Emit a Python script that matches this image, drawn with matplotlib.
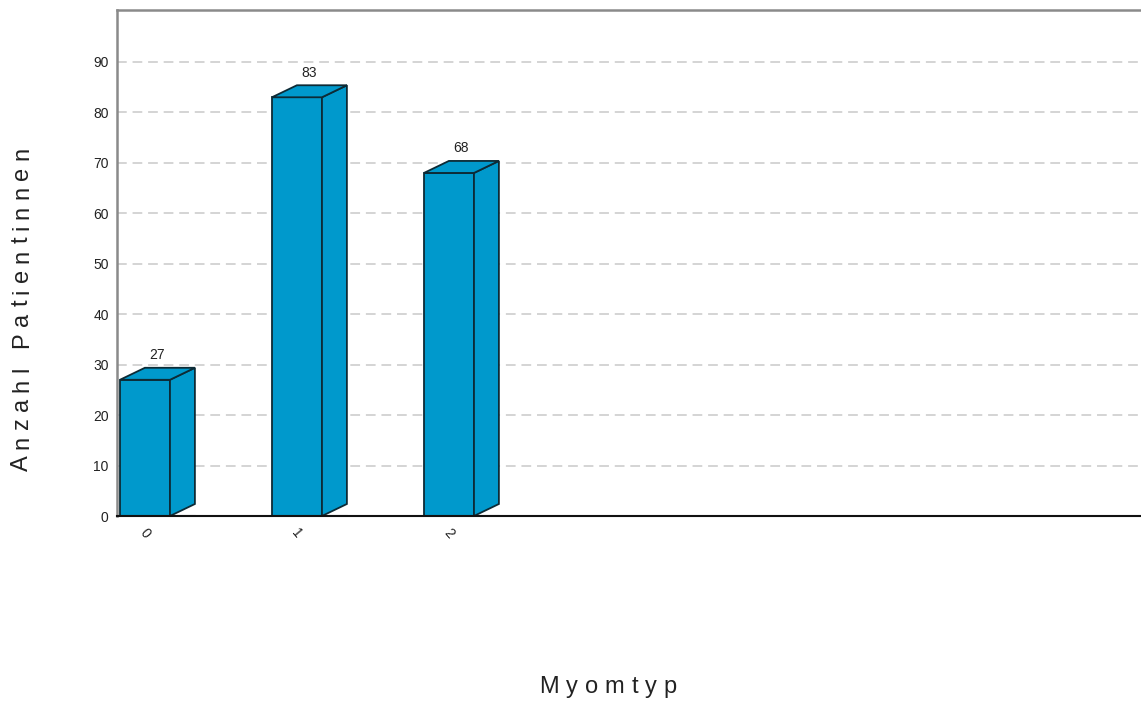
import matplotlib
matplotlib.use("Agg")
import matplotlib.pyplot as plt
from matplotlib.patches import Polygon
from matplotlib.font_manager import FontProperties, findfont, get_font

# Data
categories = ["0", "1", "2"]
counts = [27, 83, 68]
y_ticks = [0, 10, 20, 30, 40, 50, 60, 70, 80, 90]
x_label = "Myomtyp"
y_label = "Anzahl Patientinnen"

bar_color = "#0099cc"
edge_color = "#0d2b36"
text_color = "#222222"

plt.rcParams["font.family"] = ["Liberation Sans", "DejaVu Sans"]

W, H = 1141, 701
DPI = 100
fig = plt.figure(figsize=(W / DPI, H / DPI), dpi=DPI)
ax = fig.add_axes([117 / W, 185 / H, 1 - 117 / W, (691 - 185) / H])

ax.set_xlim(-0.184, 6.553)
ax.set_ylim(0, 100.3)

width = 0.329
depth_x = 0.164   # oblique depth of the pseudo-3D bars (x data units)
depth_y = 2.38    # oblique depth (y data units)

xs = list(range(len(categories)))
ax.bar(xs, counts, width=width, color=bar_color, edgecolor=edge_color,
       linewidth=1.3, zorder=3)

for x, v in zip(xs, counts):
    x0, x1 = x - width / 2, x + width / 2
    side = Polygon([(x1, 0), (x1 + depth_x, depth_y), (x1 + depth_x, v + depth_y), (x1, v)],
                   closed=True, facecolor=bar_color, edgecolor=edge_color,
                   linewidth=1.3, zorder=3)
    top = Polygon([(x0, v), (x0 + depth_x, v + depth_y), (x1 + depth_x, v + depth_y), (x1, v)],
                  closed=True, facecolor=bar_color, edgecolor=edge_color,
                  linewidth=1.3, zorder=3)
    ax.add_patch(side)
    ax.add_patch(top)
    # floor shadow along the baseline
    ax.plot([x0, x1 + depth_x], [0, 0], color="#333333", linewidth=2.2,
            solid_capstyle="butt", zorder=4)
    ax.annotate(str(v), xy=(x + depth_x / 2, v + depth_y), xytext=(0, 4),
                textcoords="offset points", ha="center", va="bottom",
                fontsize=10, color=text_color, zorder=5)

ax.set_yticks(y_ticks)
ax.set_yticklabels([str(t) for t in y_ticks], fontsize=10, color=text_color)
ax.tick_params(axis="y", length=0, pad=6)

ax.set_xticks(xs)
ax.set_xticklabels(categories, rotation=-50, fontsize=10, color=text_color,
                   ha="center", va="top")
ax.tick_params(axis="x", length=0, pad=7)

for t in y_ticks[1:]:
    ax.axhline(t, color="#d4d4d4", linewidth=1.4, linestyle=(0, (5, 3)), zorder=1)

for side_name in ("top", "left"):
    ax.spines[side_name].set_color("#8a8a8a")
    ax.spines[side_name].set_linewidth(1.8)
ax.spines["right"].set_visible(False)
ax.spines["bottom"].set_color("#111111")
ax.spines["bottom"].set_linewidth(1.5)
ax.spines["bottom"].set_zorder(4)


def tracked_text(center, baseline, s, size, tracking, vertical=False):
    """Draw a letter-spaced title; positions are in pixels from the top-left."""
    prop = FontProperties(family=["Liberation Sans", "DejaVu Sans"], size=size)
    font = get_font(findfont(prop))
    font.set_size(size, DPI)
    advances = [font.load_char(ord(ch)).linearHoriAdvance / 65536 for ch in s]
    total = sum(advances) + tracking * (len(s) - 1)
    pen = -total / 2
    for ch, adv in zip(s, advances):
        mid = pen + adv / 2
        pen += adv + tracking
        if ch == " ":
            continue
        if vertical:
            fig.text(baseline / W, (H - center + mid) / H, ch, rotation=90,
                     rotation_mode="anchor", ha="center", va="baseline",
                     fontproperties=prop, color=text_color)
        else:
            fig.text((center + mid) / W, (H - baseline) / H, ch, ha="center",
                     va="baseline", fontproperties=prop, color=text_color)


tracked_text(608, 693, x_label, 17, 7.0)
tracked_text(309, 28, y_label, 17, 6.3, vertical=True)

fig.savefig("out.png", dpi=DPI)
